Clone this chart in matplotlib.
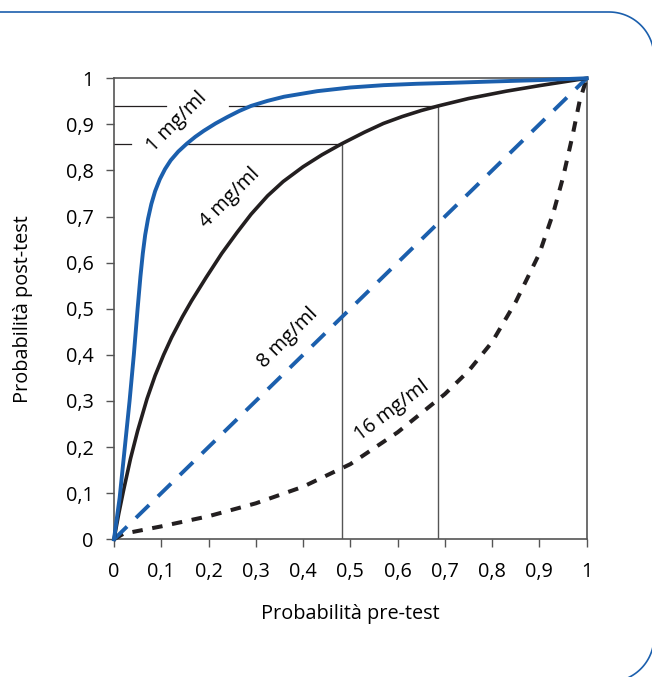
import matplotlib
matplotlib.use("Agg")
import numpy as np
import matplotlib.pyplot as plt

plt.rcParams['font.family'] = ['Open Sans', 'DejaVu Sans']
plt.rcParams['font.size'] = 14.3

# values
pre_1mg = [0, 0.012, 0.023, 0.033, 0.042, 0.05, 0.056, 0.061, 0.066, 0.072, 0.079,
           0.087, 0.097, 0.108, 0.12, 0.136, 0.154, 0.172, 0.19, 0.215, 0.24,
           0.265, 0.29, 0.325, 0.36, 0.43, 0.5, 0.57, 0.64, 0.71, 0.8, 0.9, 1]
post_1mg = [0, 0.09, 0.2, 0.3, 0.4, 0.5, 0.57, 0.62, 0.66, 0.695, 0.727,
            0.755, 0.781, 0.803, 0.822, 0.841, 0.858, 0.873, 0.886, 0.902, 0.916,
            0.929, 0.94, 0.951, 0.96, 0.972, 0.98, 0.985, 0.988, 0.99, 0.993, 0.996, 1]

pre_4mg = [0, 0.01, 0.02, 0.035, 0.05, 0.07, 0.087, 0.105, 0.122, 0.145, 0.164,
           0.195, 0.228, 0.26, 0.29, 0.325, 0.358, 0.4, 0.44, 0.482, 0.53, 0.57,
           0.61, 0.65, 0.686, 0.75, 0.83, 0.9, 1]
post_4mg = [0, 0.055, 0.105, 0.175, 0.235, 0.305, 0.355, 0.4, 0.438, 0.483, 0.517,
            0.568, 0.62, 0.665, 0.705, 0.745, 0.776, 0.808, 0.834, 0.858, 0.883, 0.902,
            0.917, 0.93, 0.94, 0.956, 0.972, 0.984, 1]

pre_8mg = [0, 1]
post_8mg = [0, 1]

pre_16mg = [0, 0.02, 0.1, 0.2, 0.3, 0.4, 0.5, 0.6, 0.7, 0.75, 0.8, 0.85,
            0.9, 0.93, 0.95, 0.97, 0.985, 1]
post_16mg = [0, 0.012, 0.028, 0.05, 0.078, 0.114, 0.163, 0.232, 0.315, 0.365, 0.428, 0.515,
             0.62, 0.71, 0.785, 0.875, 0.95, 1]

# reading guides
guide_post = [0.858, 0.94]
guide_pre = [0.482, 0.686]
guide_gaps = [(0.036, 0.154), (0.111, 0.243)]

ticks = [0, 0.1, 0.2, 0.3, 0.4, 0.5, 0.6, 0.7, 0.8, 0.9, 1]
tick_labels = ["0", "0,1", "0,2", "0,3", "0,4", "0,5", "0,6", "0,7", "0,8", "0,9", "1"]

blue = '#1b5fad'
black = '#231f20'
grey = '#555555'

fig = plt.figure(figsize=(6.52, 6.77), dpi=100)

# decorative frame with rounded right corners (pixel units, y up)
bg = fig.add_axes([0, 0, 1, 1], zorder=0)
r = 45
right, top, bottom = 654, 665, -5
t1 = np.linspace(np.pi / 2, 0, 40)
t2 = np.linspace(0, -np.pi / 2, 40)
fx = np.concatenate([[-10], right - r + r * np.cos(t1), right - r + r * np.cos(t2), [-10]])
fy = np.concatenate([[top], top - r + r * np.sin(t1), bottom + r + r * np.sin(t2), [bottom]])
bg.plot(fx, fy, color=blue, lw=1.2, clip_on=False)
bg.set_xlim(0, 652)
bg.set_ylim(0, 677)
bg.axis('off')

ax = fig.add_axes([0.1748, 0.2034, 0.7250, 0.6810], zorder=1)
ax.set_xlim(0, 1)
ax.set_ylim(0, 1)
ax.patch.set_alpha(0)

# guide lines
for (y, x, (g0, g1)) in zip(guide_post, guide_pre, guide_gaps):
    ax.plot([0, g0], [y, y], color=black, lw=0.9, zorder=2)
    ax.plot([g1, x], [y, y], color=black, lw=0.9, zorder=2)
    ax.plot([x, x], [0, y], color=grey, lw=1.0, zorder=2)

ax.plot(pre_16mg, post_16mg, color=black, lw=2.9, dashes=(2.6, 2.4), zorder=3, clip_on=False)
ax.plot(pre_8mg, post_8mg, color=blue, lw=2.8, dashes=(4.7, 3.2), zorder=3, clip_on=False)
ax.plot(pre_4mg, post_4mg, color=black, lw=2.6, zorder=4, clip_on=False)
ax.plot(pre_1mg, post_1mg, color=blue, lw=2.8, zorder=5, clip_on=False)

ax.text(0.133, 0.905, "1 mg/ml", rotation=45, ha='center', va='center')
ax.text(0.245, 0.74, "4 mg/ml", rotation=45, ha='center', va='center')
ax.text(0.368, 0.437, "8 mg/ml", rotation=45, ha='center', va='center')
ax.text(0.589, 0.28, "16 mg/ml", rotation=37, ha='center', va='center')

ax.set_xticks(ticks)
ax.set_xticklabels(tick_labels)
ax.set_yticks(ticks)
ax.set_yticklabels(tick_labels)
ax.tick_params(direction='out', length=5.5, width=1, color=grey)
ax.tick_params(axis='x', pad=11)
ax.tick_params(axis='y', pad=9)
for s in ax.spines.values():
    s.set_color(grey)
    s.set_linewidth(1.2)

ax.set_xlabel("Probabilità pre-test", labelpad=16)
ax.set_ylabel("Probabilità post-test", labelpad=24)

fig.savefig("out.png", dpi=100)
